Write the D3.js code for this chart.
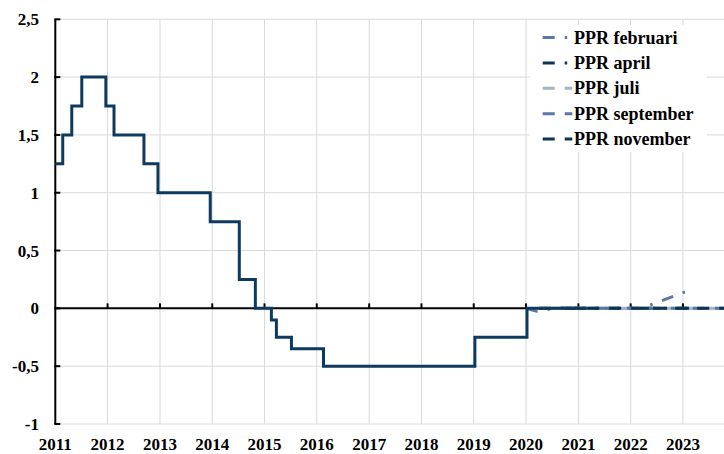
<!DOCTYPE html>
<html>
<head>
<meta charset="utf-8">
<script src="https://cdn.jsdelivr.net/npm/d3@7"></script>
<style>
  body { margin: 0; background: #fff; }
  text { font-family: "Liberation Serif", "Times New Roman", serif; font-weight: bold; }
</style>
</head>
<body>
<div id="chart"></div>
<script>
// Reporänta (utfall), trappsteg vid varje beslut
const repoRate = [
  ['2011-01-01', 1.25], ['2011-02-22', 1.5], ['2011-04-26', 1.75], ['2011-07-05', 2.0],
  ['2011-12-20', 1.75], ['2012-02-15', 1.5], ['2012-09-11', 1.25], ['2012-12-18', 1.0],
  ['2013-12-18', 0.75], ['2014-07-09', 0.25], ['2014-10-29', 0.0], ['2015-02-18', -0.1],
  ['2015-03-25', -0.25], ['2015-07-08', -0.35], ['2016-02-17', -0.5], ['2019-01-09', -0.25],
  ['2020-01-08', 0.0], ['2021-03-01', 0.0]
];

// Prognoser
const pprFebruari = [['2020-01-01', 0], ['2020-03-15', -0.025], ['2020-07-15', 0], ['2022-03-15', 0], ['2023-02-01', 0.15]];
const pprApril = [['2020-04-01', 0], ['2023-04-01', 0]];
const pprJuli = [['2020-07-01', 0], ['2023-09-01', 0]];
const pprSeptember = [['2020-09-01', 0], ['2023-12-31', 0]];
const pprNovember = [['2020-10-01', 0], ['2023-12-31', 0]];

const years = d3.range(2011, 2024);
const yTicks = [-1, -0.5, 0, 0.5, 1, 1.5, 2, 2.5];

const series = [
  { name: 'PPR februari', data: pprFebruari, color: '#5b77a6', dash: '12,10,2.5,10' },
  { name: 'PPR april', data: pprApril, color: '#0b3353', dash: '12,10,2.5,10' },
  { name: 'PPR juli', data: pprJuli, color: '#a6b4c9', dash: '12,10' },
  { name: 'PPR september', data: pprSeptember, color: '#5b77a6', dash: '12,10' },
  { name: 'PPR november', data: pprNovember, color: '#0b3353', dash: '12,10' }
];
// ritordning: juli längst ner
const drawOrder = [2, 0, 1, 3, 4];

const width = 724;
const height = 454;
const parse = d3.timeParse('%Y-%m-%d');

const svg = d3.select('#chart')
  .append('svg')
  .attr('width', width)
  .attr('height', height);

const x = d3.scaleTime()
  .domain([new Date(2011, 0, 1), new Date(2024, 0, 1)])
  .range([55.3, 55.3 + 13 * 52.3]);

const y = d3.scaleLinear()
  .domain([-1, 2.5])
  .range([424, 19.3]);

const x0 = x.range()[0];

// gridlines
svg.append('g')
  .selectAll('line')
  .data(yTicks.filter(d => d !== 0))
  .enter()
  .append('line')
  .attr('x1', x0)
  .attr('x2', width)
  .attr('y1', d => y(d))
  .attr('y2', d => y(d))
  .attr('stroke', '#d9d9d9')
  .attr('stroke-width', 1);

svg.append('g')
  .selectAll('line')
  .data(years.slice(1))
  .enter()
  .append('line')
  .attr('x1', d => x(new Date(d, 0, 1)))
  .attr('x2', d => x(new Date(d, 0, 1)))
  .attr('y1', y(2.5))
  .attr('y2', y(-1))
  .attr('stroke', '#d9d9d9')
  .attr('stroke-width', 1);

// zero line with ticks
svg.append('line')
  .attr('x1', x0)
  .attr('x2', width)
  .attr('y1', y(0))
  .attr('y2', y(0))
  .attr('stroke', '#000')
  .attr('stroke-width', 2);

svg.append('g')
  .selectAll('line')
  .data(years.slice(1))
  .enter()
  .append('line')
  .attr('x1', d => x(new Date(d, 0, 1)))
  .attr('x2', d => x(new Date(d, 0, 1)))
  .attr('y1', y(0) - 5)
  .attr('y2', y(0))
  .attr('stroke', '#000')
  .attr('stroke-width', 2);

// y axis
svg.append('line')
  .attr('x1', x0)
  .attr('x2', x0)
  .attr('y1', y(2.5))
  .attr('y2', y(-1))
  .attr('stroke', '#000')
  .attr('stroke-width', 2);

svg.append('g')
  .selectAll('line')
  .data(yTicks)
  .enter()
  .append('line')
  .attr('x1', x0 - 1)
  .attr('x2', x0 + 5)
  .attr('y1', d => y(d))
  .attr('y2', d => y(d))
  .attr('stroke', '#000')
  .attr('stroke-width', 2);

const fmt = d => String(d).replace('.', ',');

svg.append('g')
  .selectAll('text')
  .data(yTicks)
  .enter()
  .append('text')
  .attr('x', 39)
  .attr('y', d => y(d) + 6)
  .attr('text-anchor', 'end')
  .attr('font-size', '17px')
  .attr('fill', '#000')
  .text(fmt);

svg.append('g')
  .selectAll('text')
  .data(years)
  .enter()
  .append('text')
  .attr('x', d => x(new Date(d, 0, 1)))
  .attr('y', 450)
  .attr('text-anchor', 'middle')
  .attr('font-size', '17px')
  .attr('fill', '#000')
  .text(d => d);

// lines
const line = d3.line()
  .x(d => x(parse(d[0])))
  .y(d => y(d[1]));

drawOrder.forEach(i => {
  const s = series[i];
  svg.append('path')
    .datum(s.data)
    .attr('fill', 'none')
    .attr('stroke', s.color)
    .attr('stroke-width', 3)
    .attr('stroke-dasharray', s.dash)
    .attr('d', line);
});

svg.append('path')
  .datum(repoRate)
  .attr('fill', 'none')
  .attr('stroke', '#0d3a5e')
  .attr('stroke-width', 3)
  .attr('d', line.curve(d3.curveStepAfter));

// legend
const legend = svg.append('g');

legend.append('rect')
  .attr('x', 530)
  .attr('y', 25)
  .attr('width', 177)
  .attr('height', 127)
  .attr('fill', '#fff');

series.forEach((s, i) => {
  const ly = 37.5 + i * 25.4;
  legend.append('line')
    .attr('x1', 542.7)
    .attr('x2', 572.3)
    .attr('y1', ly)
    .attr('y2', ly)
    .attr('stroke', s.color)
    .attr('stroke-width', 3)
    .attr('stroke-dasharray', s.dash);
  legend.append('text')
    .attr('x', 574)
    .attr('y', ly + 6)
    .attr('font-size', '18px')
    .attr('fill', '#000')
    .text(s.name);
});
</script>
</body>
</html>
